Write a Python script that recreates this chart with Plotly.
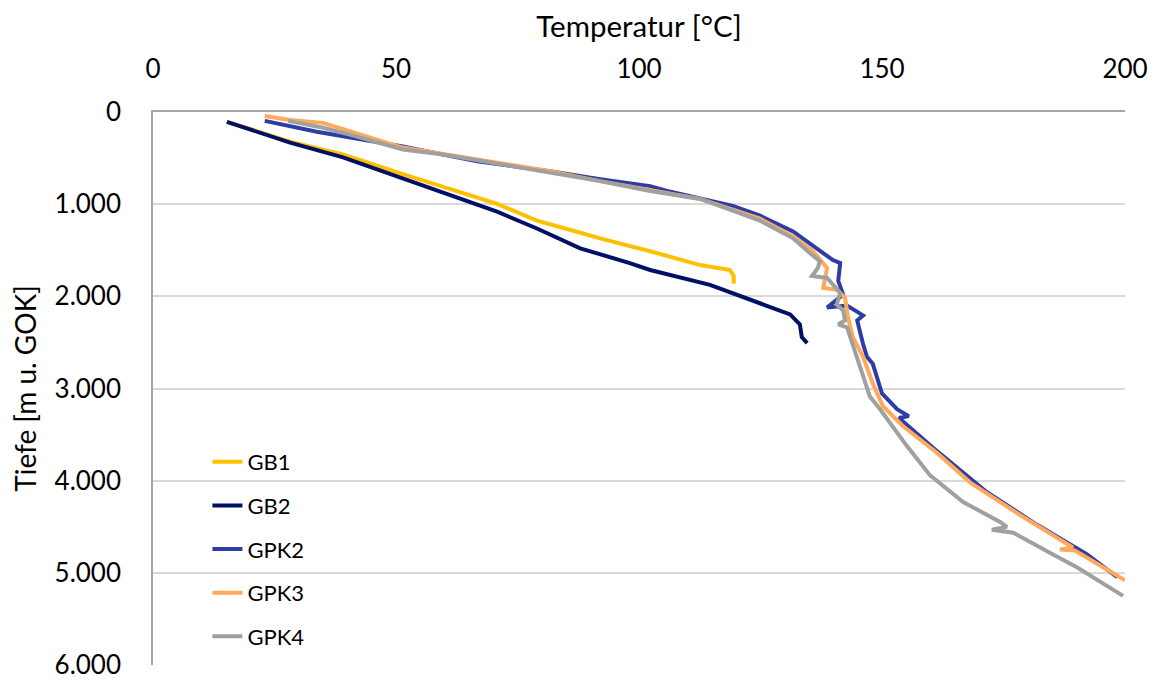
import plotly.graph_objects as go

# ---- data (Temperatur [°C], Tiefe [m]) ----
gb1_t = [15.2, 28.2, 39.1, 51.4, 70.8, 79.0, 88.5, 92.0, 102.3, 112.6, 118.7, 119.5, 119.5]
gb1_d = [107, 321, 461, 675, 996, 1179, 1318, 1371, 1511, 1661, 1714, 1780, 1864]

gb2_t = [15.2, 28.2, 39.1, 50.8, 70.8, 79.0, 87.9, 98.1, 102.3, 114.6, 126.3, 131.1, 133.1, 133.5, 134.6]
gb2_d = [107, 332, 493, 707, 1082, 1264, 1479, 1639, 1714, 1875, 2100, 2196, 2304, 2443, 2507]

gpk2_t = [23.0, 33.7, 51.4, 66.7, 81.7, 92.0, 102.3, 105.8, 119.3, 124.9, 131.7, 136.6, 139.9,
          141.4, 141.2, 141.0, 142.0, 138.7, 142.8, 146.1, 144.9, 145.5, 146.1, 146.9, 148.1,
          150.0, 153.1, 155.5, 153.5, 160.5, 171.6, 181.9, 192.2, 198.4]
gpk2_d = [96, 214, 375, 536, 643, 729, 804, 857, 1018, 1125, 1296, 1479, 1607,
          1639, 1714, 1832, 1982, 2121, 2100, 2207, 2261, 2411, 2518, 2657, 2732,
          3054, 3225, 3300, 3320, 3643, 4125, 4479, 4800, 5046]

gpk3_t = [23.0, 28.2, 35.0, 51.4, 66.7, 81.7, 92.0, 112.6, 124.9, 131.7, 135.8, 138.7, 137.9,
          140.7, 142.4, 143.0, 144.0, 146.1, 148.1, 149.2, 150.2, 154.3, 161.3, 168.1, 178.4,
          189.3, 186.6, 189.7, 200.0]
gpk3_d = [43, 86, 118, 386, 514, 643, 750, 943, 1157, 1350, 1511, 1693, 1907,
          1929, 2014, 2229, 2443, 2657, 2946, 3086, 3193, 3407, 3697, 4018, 4372,
          4725, 4747, 4757, 5080]

gpk4_t = [27.8, 35.0, 40.5, 51.4, 59.7, 67.9, 81.7, 92.0, 102.3, 112.6, 124.9, 131.7, 135.2,
          137.2, 136.8, 135.6, 138.7, 141.4, 140.7, 142.0, 142.4, 141.0, 142.8, 144.9, 146.1,
          147.5, 149.6, 155.1, 159.9, 166.7, 174.3, 175.7, 172.6, 177.0, 185.2, 190.1, 199.6]
gpk4_d = [96, 171, 246, 407, 461, 536, 654, 750, 857, 943, 1179, 1371, 1532,
          1618, 1693, 1779, 1800, 1961, 2089, 2154, 2261, 2304, 2336, 2657, 2839,
          3086, 3225, 3622, 3943, 4232, 4447, 4500, 4532, 4565, 4800, 4939, 5250]

x_ticks = [0, 50, 100, 150, 200]
y_ticks = [0, 1000, 2000, 3000, 4000, 5000, 6000]
y_tick_text = ["0", "1.000", "2.000", "3.000", "4.000", "5.000", "6.000"]

series = [
    ("GB1", gb1_t, gb1_d, "#FFC000"),
    ("GB2", gb2_t, gb2_d, "#001064"),
    ("GPK2", gpk2_t, gpk2_d, "#2E3DA6"),
    ("GPK3", gpk3_t, gpk3_d, "#FFA95C"),
    ("GPK4", gpk4_t, gpk4_d, "#A0A0A0"),
]

FONT = "Lato, 'Open Sans', sans-serif"

fig = go.Figure()
for name, t, d, c in series:
    fig.add_trace(go.Scatter(x=t, y=d, mode="lines", name=name, legendgroup=name,
                             line=dict(color=c, width=4)))

fig.update_layout(
    width=1158, height=684,
    margin=dict(l=145, r=41, t=104, b=20),
    paper_bgcolor="white", plot_bgcolor="white",
    font=dict(family=FONT, color="#000000", size=26),
    showlegend=True,
    legend=dict(x=0.056, y=0.405, xanchor="left", yanchor="top",
                bgcolor="rgba(0,0,0,0)", font=dict(size=22, family=FONT),
                tracegroupgap=12, traceorder="grouped"),
    xaxis=dict(side="top", range=[0, 200], tickvals=x_ticks, showgrid=False,
               showline=True, linecolor="#A6A6A6", linewidth=1.5, ticks="",
               ticklabelstandoff=22, zeroline=False, tickfont=dict(size=26),
               title=dict(text="Temperatur [°C]", standoff=8, font=dict(size=29.5))),
    yaxis=dict(range=[6000, 0], tickvals=y_ticks, ticktext=y_tick_text,
               showgrid=True, gridcolor="#D9D9D9", gridwidth=1.5,
               showline=True, linecolor="#A6A6A6", linewidth=1.5, ticks="",
               ticklabelstandoff=25, zeroline=False, tickfont=dict(size=26),
               title=dict(text="Tiefe [m u. GOK]", standoff=10, font=dict(size=28))),
)

fig.write_html("out.html")
